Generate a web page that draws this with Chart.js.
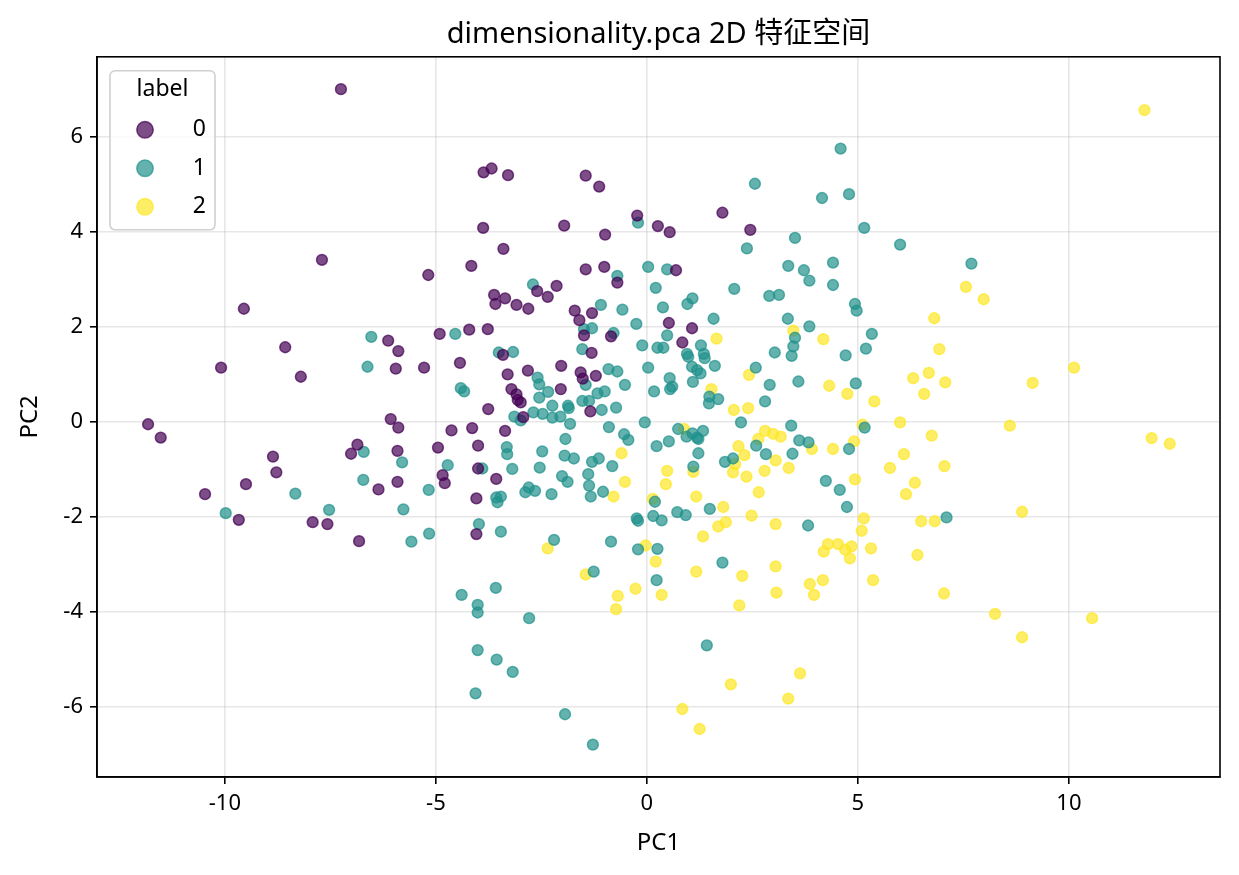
<!DOCTYPE html>
<html>
<head>
<meta charset="utf-8">
<script src="https://cdn.jsdelivr.net/npm/chart.js@4.4.0/dist/chart.umd.min.js"></script>
<style>
    html, body { margin: 0; padding: 0; background: #fff; }
    #wrap { width: 1239px; height: 875px; }
</style>
</head>
<body>
<div id="wrap"><canvas id="pcaChart" width="1239" height="875"></canvas></div>
<script>
// Series labels and colours (viridis 0 / 0.5 / 1)
const classNames = ['0', '1', '2'];
const classColors = ['68, 1, 84', '33, 145, 140', '253, 231, 37'];

// Axis ticks and limits
const xTicks = [-10, -5, 0, 5, 10];
const yTicks = [-6, -4, -2, 0, 2, 4, 6];
const xLimits = [-13.03, 13.58];
const yLimits = [-7.47, 7.68];

// label 0 points [PC1, PC2]
const label0 = [
    [-7.25, 7.00], [-7.70, 3.41], [-3.87, 5.25], [-3.68, 5.33], [-3.29, 5.19], [-1.45, 5.18],
    [-1.13, 4.95], [-0.23, 4.34], [0.26, 4.12], [-0.99, 3.94], [-1.96, 4.13], [-3.88, 4.08],
    [-3.40, 3.64], [-4.16, 3.28], [-5.18, 3.09], [-1.45, 3.21], [-1.01, 3.26], [-0.70, 2.93],
    [-2.14, 2.86], [-2.60, 2.75], [-3.62, 2.67], [-3.36, 2.60], [-2.35, 2.63], [-3.59, 2.48],
    [-3.09, 2.46], [-2.81, 2.38], [1.79, 4.40], [2.45, 4.04], [0.54, 3.99], [0.69, 3.19],
    [-9.55, 2.38], [-8.57, 1.57], [-10.09, 1.14], [-8.20, 0.95], [-11.82, -0.05], [-11.52, -0.33],
    [-8.86, -0.73], [-8.78, -1.06], [-9.50, -1.31], [-10.47, -1.52], [-9.67, -2.06], [-7.92, -2.11],
    [-7.57, -2.15], [-6.86, -0.48], [-7.01, -0.67], [-6.36, -1.42], [-6.82, -2.51], [-1.71, 2.34],
    [-1.30, 2.29], [-1.60, 2.14], [-1.49, 1.82], [-0.85, 1.80], [-1.31, 1.45], [-6.13, 1.71],
    [-5.89, 1.49], [-5.95, 1.12], [-5.28, 1.14], [-4.91, 1.85], [-4.21, 1.94], [-3.77, 1.95],
    [-4.43, 1.24], [-3.41, 1.41], [-3.30, 1.00], [-2.82, 1.08], [-2.03, 1.18], [-2.04, 0.69],
    [-1.57, 1.04], [-1.52, 0.91], [-1.21, 0.97], [-1.34, 0.22], [-3.21, 0.69], [-3.09, 0.58],
    [-3.06, 0.46], [-2.99, 0.41], [-3.76, 0.27], [-2.93, 0.10], [-6.07, 0.06], [-5.89, -0.12],
    [-4.63, -0.18], [-4.14, -0.13], [-3.36, -0.19], [-4.00, -0.50], [-4.95, -0.54], [-5.91, -0.61],
    [-4.00, -0.98], [-4.84, -1.12], [-4.79, -1.29], [-5.91, -1.26], [-3.57, -1.20], [-4.04, -1.61],
    [-4.04, -2.36], [0.52, 2.08], [1.07, 1.97], [0.84, 1.67]
];

// label 1 points
const label1 = [
    [-0.21, 4.19], [0.03, 3.26], [0.21, 2.82], [-0.70, 3.07], [-2.70, 2.89], [4.59, 5.75],
    [2.56, 5.01], [4.15, 4.71], [4.79, 4.79], [5.15, 4.08], [6.00, 3.73], [3.51, 3.87],
    [2.37, 3.65], [3.35, 3.28], [3.72, 3.19], [3.85, 2.97], [4.41, 3.35], [4.41, 2.88],
    [0.48, 3.21], [2.07, 2.80], [1.08, 2.60], [2.90, 2.65], [3.13, 2.67], [7.69, 3.33],
    [-6.53, 1.79], [-6.62, 1.16], [-6.71, -0.63], [-6.72, -1.22], [-8.33, -1.51], [-9.98, -1.92],
    [-7.53, -1.85], [-1.09, 2.46], [-0.58, 2.36], [-0.25, 2.06], [0.38, 2.41], [-1.49, 1.95],
    [-1.30, 1.97], [-0.79, 1.87], [-1.53, 1.53], [-0.11, 1.61], [0.25, 1.56], [0.39, 1.56],
    [0.03, 1.14], [0.17, 0.64], [-0.05, -0.01], [0.23, -0.51], [-4.54, 1.85], [-3.51, 1.46],
    [-3.17, 1.47], [-2.59, 0.93], [-2.55, 0.79], [-2.34, 0.63], [-1.45, 0.78], [-0.91, 1.11],
    [-0.70, 1.06], [-0.52, 0.78], [-1.17, 0.60], [-1.00, 0.64], [-1.53, 0.44], [-1.37, 0.44],
    [-1.07, 0.25], [-0.73, 0.30], [-4.41, 0.71], [-4.33, 0.64], [-2.55, 0.51], [-2.24, 0.34],
    [-1.87, 0.34], [-1.85, 0.29], [-3.14, 0.11], [-2.99, 0.03], [-2.69, 0.20], [-2.47, 0.17],
    [-2.24, 0.09], [-2.05, 0.11], [-1.82, -0.04], [-0.90, -0.11], [-0.54, -0.26], [-0.44, -0.38],
    [-5.80, -0.85], [-4.72, -0.91], [-1.93, -0.36], [-3.32, -0.53], [-3.31, -0.68], [-2.48, -0.62],
    [-1.95, -0.71], [-1.73, -0.77], [-1.30, -0.84], [-1.14, -0.77], [-0.82, -0.93], [0.19, -1.68],
    [-3.90, -0.98], [-3.19, -0.99], [-2.54, -0.96], [-5.17, -1.43], [-2.01, -1.14], [-1.88, -1.26],
    [-1.39, -1.10], [-1.37, -1.34], [-1.04, -1.47], [-1.33, -1.57], [-3.57, -1.59], [-3.46, -1.57],
    [-3.54, -1.69], [-2.88, -1.48], [-2.80, -1.38], [-2.65, -1.45], [-2.26, -1.52], [-5.77, -1.84],
    [-0.24, -2.03], [-0.21, -2.08], [0.15, -1.98], [-3.98, -2.15], [-3.46, -2.31], [-5.16, -2.35],
    [-5.58, -2.52], [-2.20, -2.48], [-0.85, -2.52], [-0.21, -2.68], [0.25, -2.67], [-1.26, -3.15],
    [0.23, -3.33], [-4.39, -3.64], [-3.58, -3.49], [-4.01, -3.85], [-4.01, -4.01], [-2.79, -4.13],
    [-4.01, -4.80], [-3.56, -5.00], [-3.18, -5.26], [-4.06, -5.71], [-1.94, -6.15], [-1.28, -6.79],
    [0.96, 2.48], [1.58, 2.17], [0.48, 1.82], [1.28, 1.61], [0.95, 1.43], [0.98, 1.37],
    [1.35, 1.43], [1.37, 1.34], [1.61, 1.18], [1.07, 1.16], [1.19, 1.09], [1.27, 1.02],
    [0.54, 0.92], [0.55, 0.69], [0.60, 0.74], [1.09, 0.84], [1.48, 0.53], [1.47, 0.39],
    [1.69, 0.48], [2.58, 1.14], [2.91, 0.78], [2.80, 0.43], [3.03, 1.46], [3.34, 2.17],
    [3.51, 1.77], [3.47, 1.59], [3.43, 1.39], [3.85, 2.01], [3.59, 0.85], [4.71, 1.40],
    [5.19, 1.54], [5.33, 1.85], [4.93, 2.48], [4.97, 2.34], [4.95, 0.81], [2.23, -0.01],
    [0.74, -0.15], [0.94, -0.31], [1.08, -0.24], [1.19, -0.33], [1.33, -0.19], [1.22, -0.36],
    [0.52, -0.41], [1.22, -0.66], [2.59, -0.50], [2.82, -0.68], [3.42, -0.08], [3.61, -0.39],
    [3.83, -0.43], [3.45, -0.67], [4.79, -0.57], [5.16, -0.12], [2.04, -0.77], [1.85, -0.84],
    [1.10, -0.94], [4.24, -1.24], [4.57, -1.43], [4.74, -1.79], [0.72, -1.90], [0.92, -1.96],
    [0.35, -2.07], [1.49, -1.83], [3.82, -2.18], [1.79, -2.96], [1.42, -4.70], [7.10, -2.01]
];

// label 2 points
const label2 = [
    [11.79, 6.56], [7.56, 2.84], [7.98, 2.58], [-0.60, -0.66], [-0.52, -1.26], [-0.79, -1.57],
    [0.14, -1.62], [-2.35, -2.66], [-0.03, -2.60], [0.21, -2.94], [-1.45, -3.21], [-0.69, -3.66],
    [-0.27, -3.51], [-0.73, -3.94], [0.35, -3.64], [1.65, 1.75], [3.47, 1.92], [4.18, 1.74],
    [6.81, 2.18], [6.93, 1.53], [2.42, 0.99], [1.53, 0.69], [4.32, 0.76], [4.75, 0.59],
    [5.39, 0.43], [6.31, 0.92], [6.68, 1.03], [6.57, 0.59], [2.06, 0.25], [2.40, 0.29],
    [6.00, -0.01], [6.75, -0.29], [0.88, -0.15], [2.80, -0.19], [2.99, -0.25], [3.17, -0.31],
    [2.64, -0.36], [4.91, -0.41], [2.17, -0.51], [2.31, -0.70], [3.05, -0.81], [3.91, -0.57],
    [4.41, -0.57], [6.09, -0.68], [0.48, -1.03], [1.10, -1.05], [2.09, -0.89], [2.04, -1.06],
    [2.79, -1.03], [3.36, -0.97], [2.36, -1.15], [0.45, -1.31], [4.93, -1.21], [5.76, -0.97],
    [6.35, -1.28], [6.14, -1.52], [7.05, -0.93], [1.17, -1.57], [2.65, -1.48], [1.81, -1.79],
    [2.48, -1.97], [3.05, -2.15], [1.69, -2.20], [1.87, -2.11], [1.33, -2.41], [5.14, -2.03],
    [5.09, -2.29], [6.50, -2.09], [6.82, -2.09], [1.17, -3.15], [2.26, -3.24], [2.19, -3.86],
    [3.05, -3.04], [3.07, -3.59], [4.19, -2.73], [4.29, -2.57], [4.53, -2.57], [4.70, -2.69],
    [4.85, -2.62], [4.81, -2.87], [5.31, -2.66], [6.41, -2.80], [3.86, -3.41], [4.17, -3.33],
    [3.96, -3.64], [5.36, -3.33], [7.04, -3.61], [8.25, -4.04], [8.89, -4.53], [10.55, -4.13],
    [1.99, -5.52], [3.63, -5.29], [3.35, -5.82], [0.84, -6.04], [1.25, -6.46], [7.07, 0.83],
    [9.14, 0.82], [10.12, 1.14], [8.60, -0.08], [11.96, -0.34], [12.39, -0.46], [8.89, -1.89],
    [5.11, -0.06]
];

const FONT = "'Noto Sans', 'Noto Sans CJK SC', sans-serif";
Chart.defaults.font.family = FONT;
Chart.defaults.color = '#000';

const toPoints = arr => arr.map(p => ({ x: p[0], y: p[1] }));

// Black frame round the axes (top and right included)
const framePlugin = {
    id: 'frame',
    afterDatasetsDraw(chart) {
        const { ctx, chartArea: a } = chart;
        ctx.save();
        ctx.strokeStyle = '#000';
        ctx.lineWidth = 1.6;
        ctx.strokeRect(a.left, a.top, a.right - a.left, a.bottom - a.top);
        ctx.restore();
    }
};

// matplotlib-style legend box with a title, top-left inside the axes
const legendPlugin = {
    id: 'boxLegend',
    afterDraw(chart) {
        const { ctx, chartArea: a } = chart;
        const bx = a.left + 13, by = a.top + 14, bw = 105, bh = 159;
        ctx.save();
        ctx.beginPath();
        ctx.roundRect(bx, by, bw, bh, 5);
        ctx.fillStyle = 'rgba(255,255,255,0.8)';
        ctx.fill();
        ctx.strokeStyle = '#d0d0d0';
        ctx.lineWidth = 1.6;
        ctx.stroke();

        ctx.font = '23px ' + FONT;
        ctx.fillStyle = '#000';
        ctx.textAlign = 'center';
        ctx.textBaseline = 'middle';
        ctx.fillText('label', bx + bw / 2, by + 19);

        chart.data.datasets.forEach((ds, i) => {
            const cy = by + 59 + i * 38.5;
            ctx.beginPath();
            ctx.arc(bx + 35, cy, 8.2, 0, Math.PI * 2);
            ctx.fillStyle = ds.backgroundColor;
            ctx.fill();
            ctx.strokeStyle = ds.borderColor;
            ctx.lineWidth = 1.5;
            ctx.stroke();
            ctx.fillStyle = '#000';
            ctx.textAlign = 'right';
            ctx.fillText(ds.label, bx + 96, cy);
        });
        ctx.restore();
    }
};

new Chart(document.getElementById('pcaChart'), {
    type: 'scatter',
    data: {
        datasets: [label0, label1, label2].map((arr, i) => ({
            label: classNames[i],
            data: toPoints(arr),
            backgroundColor: `rgba(${classColors[i]}, 0.7)`,
            borderColor: `rgba(${classColors[i]}, 0.7)`,
            borderWidth: 1.5,
            pointRadius: 5.4,
            pointHoverRadius: 5.4
        }))
    },
    options: {
        responsive: false,
        animation: false,
        devicePixelRatio: 1,
        layout: { padding: { left: 0, right: 19, top: 0, bottom: 0 } },
        plugins: {
            legend: { display: false },
            tooltip: { enabled: false },
            title: {
                display: true,
                fullSize: false,
                text: 'dimensionality.pca 2D 特征空间',
                color: '#000',
                font: { size: 29, weight: 'normal', family: FONT },
                padding: { top: 17, bottom: 5 }
            }
        },
        scales: {
            x: {
                type: 'linear',
                min: xLimits[0],
                max: xLimits[1],
                afterBuildTicks: s => { s.ticks = xTicks.map(v => ({ value: v })); },
                afterFit: s => { s.height = 98; },
                grid: {
                    color: 'rgba(176,176,176,0.3)',
                    lineWidth: 1.6,
                    tickColor: '#000',
                    tickLength: 7,
                    tickWidth: 1.6
                },
                border: { color: '#000', width: 1.6 },
                ticks: { font: { size: 22 }, color: '#000', padding: 7, maxRotation: 0 },
                title: {
                    display: true,
                    text: 'PC1',
                    font: { size: 24 },
                    color: '#000',
                    padding: { top: 0, bottom: 17 }
                }
            },
            y: {
                type: 'linear',
                min: yLimits[0],
                max: yLimits[1],
                afterBuildTicks: s => { s.ticks = yTicks.map(v => ({ value: v })); },
                afterFit: s => { s.width = 97; },
                grid: {
                    color: 'rgba(176,176,176,0.3)',
                    lineWidth: 1.6,
                    tickColor: '#000',
                    tickLength: 7,
                    tickWidth: 1.6
                },
                border: { color: '#000', width: 1.6 },
                ticks: { font: { size: 22 }, color: '#000', padding: 7 },
                title: {
                    display: true,
                    text: 'PC2',
                    font: { size: 24 },
                    color: '#000',
                    padding: { top: 16, bottom: 0 }
                }
            }
        }
    },
    plugins: [framePlugin, legendPlugin]
});
</script>
</body>
</html>
